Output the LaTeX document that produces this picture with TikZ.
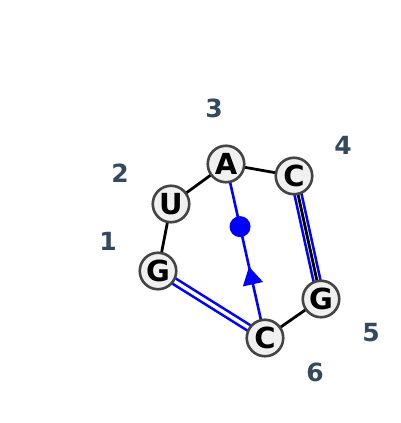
\documentclass[tikz,border=0pt]{standalone}
\usepackage{fontspec}
\setmainfont{DejaVu Sans}
\usetikzlibrary{backgrounds,decorations.markings,arrows.meta}
\definecolor{nuclfill}{HTML}{F0F0F0}
\definecolor{nuclline}{HTML}{444444}
\definecolor{numcol}{HTML}{34495E}
\newcommand{\numero}[1]{\textcolor{numcol}{#1}}

\begin{document}
\begin{tikzpicture}[x=1pt,y=-1pt,
  nucl/.style={circle,draw=nuclline,fill=nuclfill,line width=2.6pt,
    minimum size=36.5pt,inner sep=0pt,font=\fontsize{29}{29}\selectfont\bfseries},
  numlab/.style={font=\fontsize{25}{25}\selectfont\bfseries},
  backbone/.style={line width=2.8pt},
  pairwc/.style={draw=blue,line width=2.6pt,double=white,double distance=3.4pt},
  pairnc/.style={draw=blue,line width=2.6pt,postaction={decorate},
    decoration={markings,mark=at position .41 with
      {\arrow{Triangle[length=18pt,width=20pt]}}}},
  ]
\useasboundingbox (0,0) rectangle (400,423);
% nucleotides
\node[nucl] (n1) at (158,271) {G};
\node[nucl] (n2) at (171,204) {U};
\node[nucl] (n3) at (226,164) {A};
\node[nucl] (n4) at (294,176) {C};
\node[nucl] (n5) at (321,299) {G};
\node[nucl] (n6) at (265,338) {C};
% numbers
\node[numlab] (l1) at (108,241) {\numero{1}};
\node[numlab] (l2) at (120,173) {\numero{2}};
\node[numlab] (l3) at (214,108) {\numero{3}};
\node[numlab] (l4) at (343,145) {\numero{4}};
\node[numlab] (l5) at (371,333) {\numero{5}};
\node[numlab] (l6) at (315,372) {\numero{6}};
\begin{scope}[on background layer]
\draw[pairwc] (n1.center) -- (n6.center);
\draw[pairwc,double distance=4.4pt] (n4.center) -- (n5.center);
\draw[backbone] (n1.center) -- (n2.center) -- (n3.center) -- (n4.center) -- (n5.center) -- (n6.center);
\draw[pairnc] (n6.center) -- node[pos=.64,circle,fill=blue,minimum size=21pt,inner sep=0pt] (dot) {} (n3.center);
\end{scope}
\end{tikzpicture}
\end{document}
